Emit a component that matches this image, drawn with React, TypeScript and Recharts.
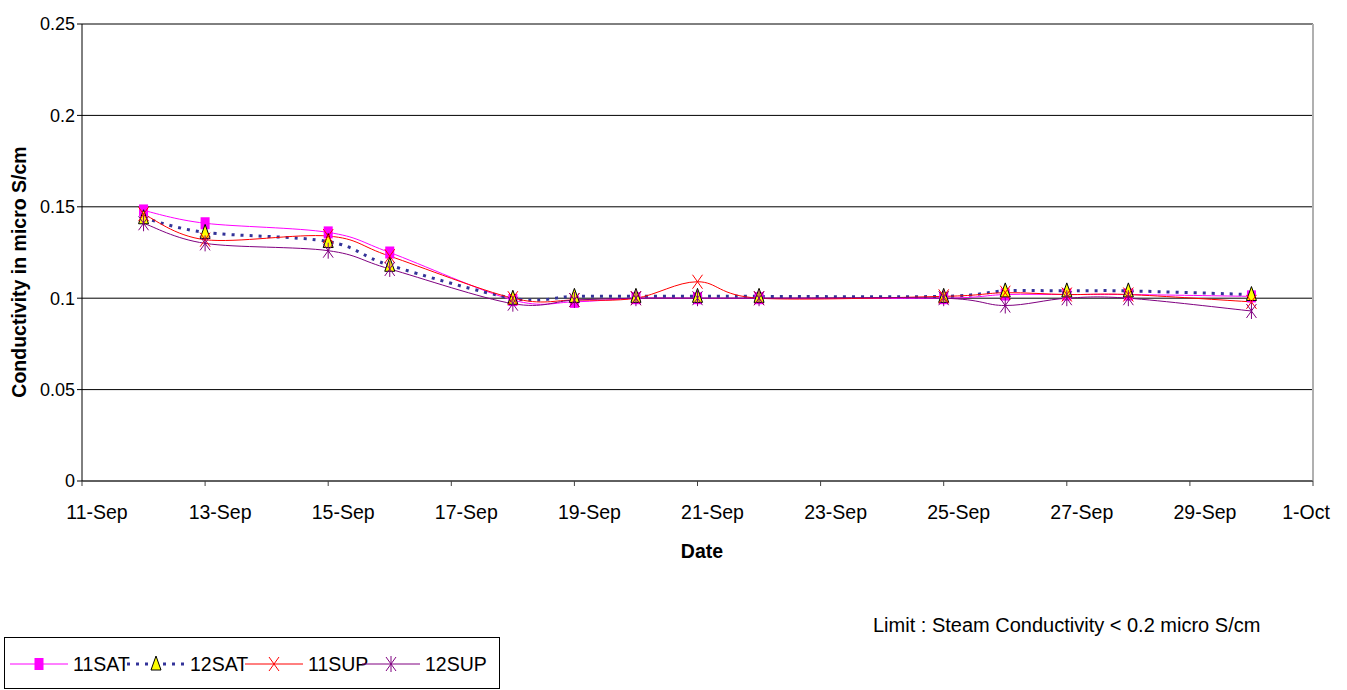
import React from 'react';
import { LineChart, Line, XAxis, YAxis, CartesianGrid, ReferenceLine } from 'recharts';

// sampling dates (all September), and readings in micro S/cm
const dates = ['12-Sep', '13-Sep', '15-Sep', '16-Sep', '18-Sep', '19-Sep', '20-Sep', '21-Sep', '22-Sep', '25-Sep', '26-Sep', '27-Sep', '28-Sep', '30-Sep'];
const sat11 = [0.148, 0.141, 0.136, 0.125, 0.099, 0.098, 0.100, 0.100, 0.100, 0.100, 0.102, 0.102, 0.102, 0.101];
const sat12 = [0.144, 0.136, 0.131, 0.118, 0.100, 0.101, 0.101, 0.101, 0.101, 0.101, 0.104, 0.104, 0.104, 0.102];
const sup11 = [0.146, 0.132, 0.134, 0.123, 0.100, 0.099, 0.100, 0.109, 0.100, 0.101, 0.103, 0.102, 0.102, 0.098];
const sup12 = [0.141, 0.130, 0.126, 0.116, 0.097, 0.099, 0.100, 0.100, 0.100, 0.100, 0.096, 0.100, 0.100, 0.093];

const xTicks = [11, 13, 15, 17, 19, 21, 23, 25, 27, 29, 31];
const yTicks = [0, 0.05, 0.1, 0.15, 0.2, 0.25];

const FONT = '"Liberation Sans", Arial, sans-serif';

const data = dates.map((d, i) => ({
  day: parseInt(d, 10),
  sat11: sat11[i],
  sat12: sat12[i],
  sup11: sup11[i],
  sup12: sup12[i],
}));

const dayLabel = (d: number) => (d > 30 ? `${d - 30}-Oct` : `${d}-Sep`);

// spreadsheet-style smoothing: cubic bezier through every point (catmull-rom tangents)
function smoothCurve(context: any) {
  let pts: number[][] = [];
  return {
    areaStart() {},
    areaEnd() {},
    lineStart() {
      pts = [];
    },
    point(x: number, y: number) {
      pts.push([+x, +y]);
    },
    lineEnd() {
      const n = pts.length;
      if (!n) return;
      context.moveTo(pts[0][0], pts[0][1]);
      for (let i = 0; i < n - 1; i++) {
        const p0 = pts[Math.max(i - 1, 0)];
        const p1 = pts[i];
        const p2 = pts[i + 1];
        const p3 = pts[Math.min(i + 2, n - 1)];
        context.bezierCurveTo(
          p1[0] + (p2[0] - p0[0]) / 6,
          p1[1] + (p2[1] - p0[1]) / 6,
          p2[0] - (p3[0] - p1[0]) / 6,
          p2[1] - (p3[1] - p1[1]) / 6,
          p2[0],
          p2[1]
        );
      }
    },
  };
}

const Square = ({ cx, cy }: any) => <rect x={cx - 4.5} y={cy - 6} width={9} height={12} fill="#FF00FF" />;

const Triangle = ({ cx, cy }: any) => (
  <path
    d={`M${cx},${cy - 8}L${cx + 5},${cy + 6}L${cx - 5},${cy + 6}Z`}
    fill="#FFFF00"
    stroke="#000"
    strokeWidth={1}
  />
);

const Cross = ({ cx, cy }: any) => (
  <path
    d={`M${cx - 5},${cy - 7}L${cx + 5},${cy + 7}M${cx + 5},${cy - 7}L${cx - 5},${cy + 7}`}
    stroke="#FF0000"
    strokeWidth={1}
    fill="none"
  />
);

const Star = ({ cx, cy }: any) => (
  <path
    d={`M${cx - 5},${cy - 7}L${cx + 5},${cy + 7}M${cx + 5},${cy - 7}L${cx - 5},${cy + 7}M${cx},${cy - 8}L${cx},${cy + 8}`}
    stroke="#800080"
    strokeWidth={1}
    fill="none"
  />
);

const XTick = ({ x, y, payload }: any) => {
  const last = payload.value === 31;
  return (
    <text
      x={x + (last ? -7 : 15)}
      y={y + 14}
      textAnchor="middle"
      fontFamily={FONT}
      fontSize={19.5}
      fill="#000"
    >
      {dayLabel(payload.value)}
    </text>
  );
};

const legendItems = [
  { name: '11SAT', x: 10, color: '#FF00FF', dash: undefined, width: 1, Marker: Square },
  { name: '12SAT', x: 127, color: '#333399', dash: '3 6', width: 3, Marker: Triangle },
  { name: '11SUP', x: 245, color: '#FF0000', dash: undefined, width: 1, Marker: Cross },
  { name: '12SUP', x: 362, color: '#800080', dash: undefined, width: 1, Marker: Star },
];

export default function App() {
  return (
    <div style={{ position: 'fixed', left: 0, top: 0, width: 1347, height: 690, background: '#fff' }}>
      <LineChart width={1347} height={690} data={data} margin={{ top: 24, right: 34, left: 0, bottom: 119 }}>
        <CartesianGrid vertical={false} stroke="#000" strokeWidth={1} />
        <ReferenceLine x={31} stroke="#b0b0b0" strokeWidth={2} />
        <XAxis
          dataKey="day"
          type="number"
          domain={[11, 31]}
          ticks={xTicks}
          interval={0}
          height={90}
          tickSize={5}
          tickMargin={19}
          stroke="#404040"
          tick={<XTick />}
          label={{
            content: () => (
              <text x={702} y={558} textAnchor="middle" fontFamily={FONT} fontSize={19.5} fontWeight="bold" fill="#000">
                Date
              </text>
            ),
          }}
        />
        <YAxis
          type="number"
          domain={[0, 0.25]}
          ticks={yTicks}
          interval={0}
          width={82}
          tickSize={5}
          tickMargin={2}
          stroke="#000"
          tick={{ fontFamily: FONT, fontSize: 18, fill: '#000' }}
          label={{
            content: () => (
              <text
                x={19}
                y={272}
                transform="rotate(-90 19 272)"
                textAnchor="middle"
                dominantBaseline="central"
                fontFamily={FONT}
                fontSize={19.5}
                fontWeight="bold"
                fill="#000"
              >
                Conductivity in micro S/cm
              </text>
            ),
          }}
        />
        <Line
          dataKey="sat11"
          type={smoothCurve as any}
          stroke="#FF00FF"
          strokeWidth={1}
          dot={(p: any) => <Square key={`a${p.index}`} cx={p.cx} cy={p.cy} />}
          activeDot={false}
          isAnimationActive={false}
        />
        <Line
          dataKey="sat12"
          type={smoothCurve as any}
          stroke="#333399"
          strokeWidth={3}
          strokeDasharray="3 6"
          dot={(p: any) => <Triangle key={`b${p.index}`} cx={p.cx} cy={p.cy} />}
          activeDot={false}
          isAnimationActive={false}
        />
        <Line
          dataKey="sup11"
          type={smoothCurve as any}
          stroke="#FF0000"
          strokeWidth={1}
          dot={(p: any) => <Cross key={`c${p.index}`} cx={p.cx} cy={p.cy} />}
          activeDot={false}
          isAnimationActive={false}
        />
        <Line
          dataKey="sup12"
          type={smoothCurve as any}
          stroke="#800080"
          strokeWidth={1}
          dot={(p: any) => <Star key={`d${p.index}`} cx={p.cx} cy={p.cy} />}
          activeDot={false}
          isAnimationActive={false}
        />
      </LineChart>
      <svg width={1347} height={690} style={{ position: 'absolute', left: 0, top: 0, pointerEvents: 'none' }}>
        <text x={873} y={632} fontFamily={FONT} fontSize={20} fill="#000">
          Limit : Steam Conductivity &lt; 0.2 micro S/cm
        </text>
        <rect x={4.5} y={637.5} width={495} height={51} fill="none" stroke="#000" strokeWidth={1} />
        {legendItems.map(({ name, x, color, dash, width, Marker }) => (
          <g key={name}>
            <line x1={x} x2={x + 58} y1={664} y2={664} stroke={color} strokeWidth={width} strokeDasharray={dash} />
            <Marker cx={x + 29} cy={664} />
            <text x={x + 63} y={671} fontFamily={FONT} fontSize={19.5} fill="#000">
              {name}
            </text>
          </g>
        ))}
      </svg>
    </div>
  );
}
